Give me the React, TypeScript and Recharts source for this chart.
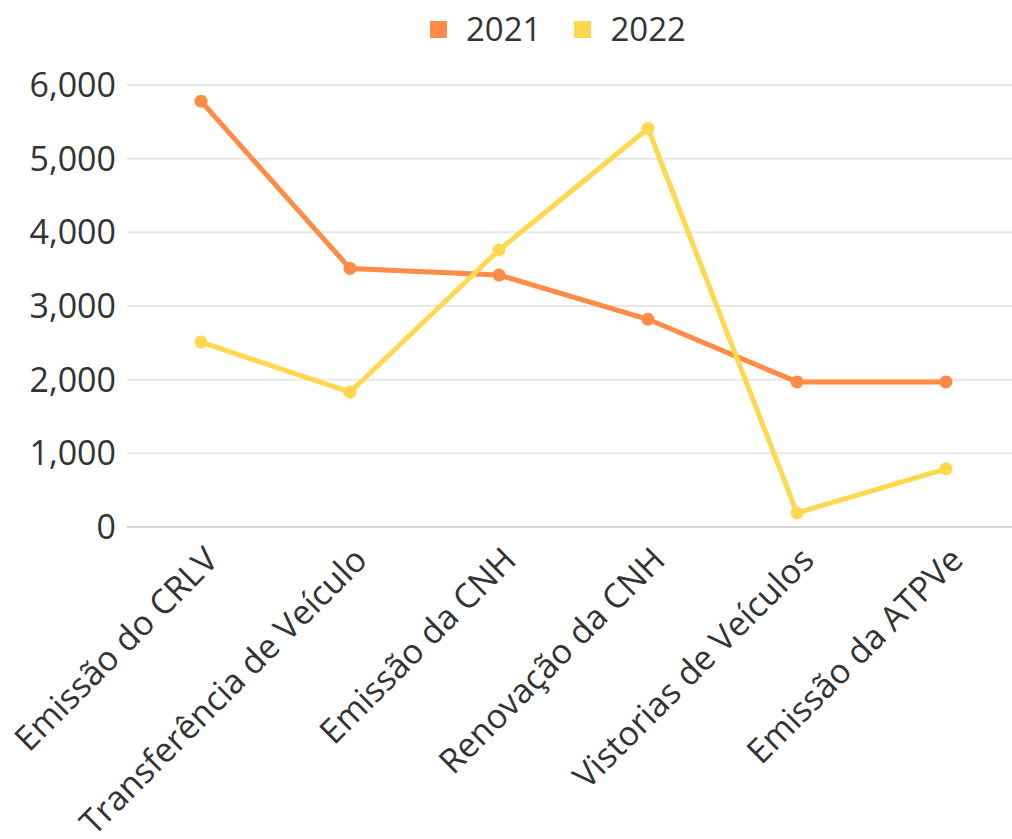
import { LineChart, Line, XAxis, YAxis, CartesianGrid, Legend } from "recharts";

const categories = [
  "Emissão do CRLV",
  "Transferência de Veículo",
  "Emissão da CNH",
  "Renovação da CNH",
  "Vistorias de Veículos",
  "Emissão da ATPVe",
];
const values2021 = [5780, 3510, 3420, 2820, 1970, 1970];
const values2022 = [2510, 1830, 3760, 5410, 190, 790];
const yTicks = [0, 1000, 2000, 3000, 4000, 5000, 6000];

const ORANGE = "#ff8b45";
const YELLOW = "#ffd84e";
const TEXT = "#333333";
const FONT = "'Open Sans', sans-serif";

const data = categories.map((name, i) => ({
  name,
  "2021": values2021[i],
  "2022": values2022[i],
}));

const XTick = ({ x, y, payload }: any) => (
  <g transform={`translate(${x + 19},${y + 27})`}>
    <text
      transform="rotate(-45)"
      textAnchor="end"
      fill={TEXT}
      fontSize={34}
      fontFamily={FONT}
    >
      {payload.value}
    </text>
  </g>
);

const LegendContent = ({ payload }: any) => (
  <div style={{ display: "flex", alignItems: "center", paddingLeft: 430, fontFamily: FONT }}>
    {(payload || []).map((p: any, i: number) => (
      <div key={p.value} style={{ display: "flex", alignItems: "center", marginRight: i === 0 ? 33 : 0 }}>
        <span style={{ width: 17, height: 17, background: p.color, display: "inline-block", marginRight: 19 }} />
        <span style={{ fontSize: 33, color: TEXT, lineHeight: "40px" }}>{p.value}</span>
      </div>
    ))}
  </div>
);

export default function App() {
  return (
    <div style={{ position: "absolute", left: 0, top: 0, background: "#fff" }}>
      <LineChart
        width={1012}
        height={839}
        data={data}
        margin={{ top: 85, right: 0, bottom: 0, left: 0 }}
      >
        <CartesianGrid vertical={false} stroke="#e8e8e8" strokeWidth={2} />
        <XAxis
          dataKey="name"
          interval={0}
          height={312}
          padding={{ left: 74, right: 66 }}
          tickLine={false}
          axisLine={{ stroke: "#d6d6d6", strokeWidth: 2 }}
          tick={<XTick />}
        />
        <YAxis
          width={127}
          domain={[0, 6000]}
          ticks={yTicks}
          axisLine={false}
          tickLine={false}
          tickSize={0}
          tickMargin={11}
          tickFormatter={(v: number) => v.toLocaleString("en-US")}
          tick={{ fill: TEXT, fontSize: 34, fontFamily: FONT }}
        />
        <Legend
          verticalAlign="middle"
          align="center"
          wrapperStyle={{ top: 9, left: 0, width: 1012 }}
          content={<LegendContent />}
        />
        <Line
          dataKey="2021"
          stroke={ORANGE}
          strokeWidth={5}
          dot={{ r: 6.5, fill: ORANGE, stroke: ORANGE, strokeWidth: 0 }}
          activeDot={false}
          isAnimationActive={false}
        />
        <Line
          dataKey="2022"
          stroke={YELLOW}
          strokeWidth={5}
          dot={{ r: 6.5, fill: YELLOW, stroke: YELLOW, strokeWidth: 0 }}
          activeDot={false}
          isAnimationActive={false}
        />
      </LineChart>
    </div>
  );
}
